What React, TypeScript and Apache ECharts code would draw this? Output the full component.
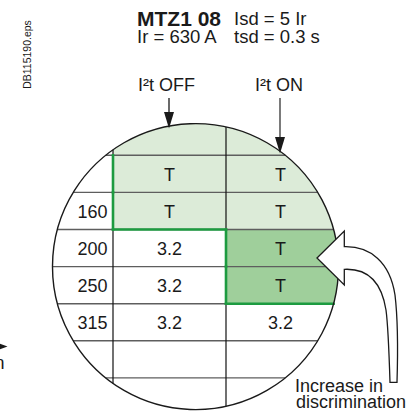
import React, { useEffect, useRef } from 'react';
import * as echarts from 'echarts';

// ---- data ----
const rowLabels = ['', '', '160', '200', '250', '315', '', ''];
const i2tOff = ['', 'T', 'T', '3.2', '3.2', '3.2', '', ''];
const i2tOn = ['', 'T', 'T', 'T', 'T', '3.2', '', ''];
const offShade = [1, 1, 1, 0, 0, 0, 0, 0]; // 1 = trip (light green)
const onShade = [1, 1, 1, 2, 2, 0, 0, 0]; // 2 = new trip (dark green)
const columnHeaders = ['I²t OFF', 'I²t ON'];
const titleLeft = ['MTZ1 08', 'Ir = 630 A'];
const titleRight = ['Isd = 5 Ir', 'tsd = 0.3 s'];
const noteLines = ['Increase in', 'discrimination'];
const figureId = 'DB115190.eps';

const NROWS = rowLabels.length;
const FONT = '"Liberation Sans", Arial, Helvetica, sans-serif';
const LIGHT = '#dcebd8';
const DARK = '#9fcf9b';
const GREEN = '#1d9b40';
const INK = '#1a1a1a';

// magnifier circle in axis units (x units)
const CIRCLE = { cx: 0.73, cy: 4.0, r: 1.2655 };

const ARROW_D =
  'M317,258 L344.3,231 L344.3,246.7 C370,246 390,262 395,295 C398,320 398,350 397,382.3 L390,382.3 C389,350 388,325 386,310 C382,285 370,268 344.3,269.3 L344.3,285 Z';
try {
  echarts.graphic.registerShape('curvedArrow', echarts.graphic.extendPath(ARROW_D, {}) as any);
} catch (e) {
  /* ignore */
}

function cellValue(r: number, c: number) {
  return c === 0 ? rowLabels[r] : c === 1 ? i2tOff[r] : i2tOn[r];
}

function circlePoints(cx: number, cy: number, R: number, n = 240) {
  const pts: number[][] = [];
  for (let i = 0; i < n; i++) {
    const a = (i / n) * Math.PI * 2;
    pts.push([cx + R * Math.cos(a), cy + R * Math.sin(a)]);
  }
  return pts;
}

function clipEdge(pts: number[][], inside: (p: number[]) => boolean, inter: (a: number[], b: number[]) => number[]) {
  const out: number[][] = [];
  for (let i = 0; i < pts.length; i++) {
    const cur = pts[i];
    const prev = pts[(i + pts.length - 1) % pts.length];
    const ci = inside(cur);
    const pi = inside(prev);
    if (ci) {
      if (!pi) out.push(inter(prev, cur));
      out.push(cur);
    } else if (pi) {
      out.push(inter(prev, cur));
    }
  }
  return out;
}

function clipRect(pts: number[][], x0: number, x1: number, y0: number, y1: number) {
  const ix = (a: number[], b: number[], x: number) => {
    const t = (x - a[0]) / (b[0] - a[0]);
    return [x, a[1] + t * (b[1] - a[1])];
  };
  const iy = (a: number[], b: number[], y: number) => {
    const t = (y - a[1]) / (b[1] - a[1]);
    return [a[0] + t * (b[0] - a[0]), y];
  };
  let p = pts;
  p = clipEdge(p, (q) => q[0] >= x0, (a, b) => ix(a, b, x0));
  if (p.length) p = clipEdge(p, (q) => q[0] <= x1, (a, b) => ix(a, b, x1));
  if (p.length) p = clipEdge(p, (q) => q[1] >= y0, (a, b) => iy(a, b, y0));
  if (p.length) p = clipEdge(p, (q) => q[1] <= y1, (a, b) => iy(a, b, y1));
  return p;
}

// segment clipped to circle (axis aligned), pixel coords
function clipSeg(p1: number[], p2: number[], c: number[], R: number) {
  if (p1[1] === p2[1]) {
    const dy = p1[1] - c[1];
    if (Math.abs(dy) >= R) return null;
    const dx = Math.sqrt(R * R - dy * dy);
    const a = Math.max(Math.min(p1[0], p2[0]), c[0] - dx);
    const b = Math.min(Math.max(p1[0], p2[0]), c[0] + dx);
    if (b <= a) return null;
    return [a, p1[1], b, p1[1]];
  }
  const dx = p1[0] - c[0];
  if (Math.abs(dx) >= R) return null;
  const dy = Math.sqrt(R * R - dx * dx);
  const a = Math.max(Math.min(p1[1], p2[1]), c[1] - dy);
  const b = Math.min(Math.max(p1[1], p2[1]), c[1] + dy);
  if (b <= a) return null;
  return [p1[0], a, p1[0], b];
}

// cells
const cellData: number[][] = [];
for (let r = 0; r < NROWS; r++) for (let c = 0; c < 3; c++) cellData.push([c, r]);

// grid lines: [orientation (0=h,1=v), position]
const gridLines: number[][] = [];
for (let r = 1; r < NROWS; r++) gridLines.push([0, r]);
gridLines.push([1, 0]);
gridLines.push([1, 1]);

// green boundary between trip / no-trip cells
const greenSegs: number[][] = [];
for (let c = 1; c <= 2; c++) {
  for (let r = 0; r < NROWS; r++) {
    if (cellValue(r, c) !== 'T') continue;
    const x0 = c - 1;
    const x1 = c;
    const left = c === 1 ? 'label' : cellValue(r, c - 1);
    if (left === 'label' || (left && left !== 'T')) greenSegs.push([x0, r, x0, r + 1]);
    if (c === 1) {
      const right = cellValue(r, 2);
      if (right && right !== 'T') greenSegs.push([x1, r, x1, r + 1]);
    }
    if (r + 1 < NROWS) {
      const below = cellValue(r + 1, c);
      if (below && below !== 'T') greenSegs.push([x0, r + 1, x1, r + 1]);
    }
    if (r - 1 >= 0) {
      const above = cellValue(r - 1, c);
      if (above && above !== 'T') greenSegs.push([x0, r, x1, r]);
    }
  }
}

function circleGeom(api: any) {
  const center = api.coord([CIRCLE.cx, CIRCLE.cy]);
  const R = api.size([CIRCLE.r, 0])[0];
  return { center, R };
}

export default function App() {
  const ref = useRef<HTMLDivElement>(null);
  useEffect(() => {
    if (!ref.current) return;
    const chart = echarts.init(ref.current, null, { renderer: 'svg' });
    const txt = (text: string, x: number, y: number, size: number, extra: any = {}) => ({
      type: 'text',
      x,
      y,
      z: 50,
      ...extra,
      style: {
        text,
        font: `${extra.bold ? 'bold ' : ''}${size}px ${FONT}`,
        fill: INK,
        align: extra.align || 'left',
        textAlign: extra.align || 'left',
        verticalAlign: 'middle',
        textVerticalAlign: 'middle',
      },
    });

    const option: any = {
      animation: false,
      backgroundColor: '#ffffff',
      grid: { left: 0, top: 118.2, width: 339, height: 302.4 },
      xAxis: { type: 'value', min: -1, max: 2, show: false, splitLine: { show: false } },
      yAxis: { type: 'value', min: 0, max: NROWS, inverse: true, show: false, splitLine: { show: false } },
      series: [
        {
          type: 'custom',
          z: 2,
          clip: false,
          data: cellData,
          renderItem: (params: any, api: any) => {
            const c = api.value(0);
            const r = api.value(1);
            const p0 = api.coord([c - 1, r]);
            const p1 = api.coord([c, r + 1]);
            const { center, R } = circleGeom(api);
            const children: any[] = [];
            const shade = c === 1 ? offShade[r] : c === 2 ? onShade[r] : 0;
            if (shade) {
              const poly = clipRect(
                circlePoints(center[0], center[1], R),
                Math.min(p0[0], p1[0]),
                Math.max(p0[0], p1[0]),
                Math.min(p0[1], p1[1]),
                Math.max(p0[1], p1[1])
              );
              if (poly.length > 2)
                children.push({ type: 'polygon', shape: { points: poly }, style: { fill: shade === 2 ? DARK : LIGHT } });
            }
            const text = cellValue(r, c);
            if (text) {
              children.push({
                type: 'text',
                x: c === 0 ? p1[0] - 5.5 : (p0[0] + p1[0]) / 2 - (c === 2 ? 2 : 0),
                y: (p0[1] + p1[1]) / 2 + 1,
                style: {
                  text,
                  fill: INK,
                  font: `18px ${FONT}`,
                  align: c === 0 ? 'right' : 'center',
                  verticalAlign: 'middle',
                },
              });
            }
            return { type: 'group', children };
          },
        },
        {
          type: 'custom',
          z: 3,
          clip: false,
          data: gridLines,
          renderItem: (params: any, api: any) => {
            const o = api.value(0);
            const pos = api.value(1);
            const { center, R } = circleGeom(api);
            const a = o === 0 ? api.coord([-1, pos]) : api.coord([pos, 0]);
            const b = o === 0 ? api.coord([2, pos]) : api.coord([pos, NROWS]);
            const s = clipSeg(a, b, center, R);
            if (!s) return { type: 'group', children: [] };
            return {
              type: 'line',
              shape: { x1: s[0], y1: s[1], x2: s[2], y2: s[3] },
              style: { stroke: o === 0 ? '#5e5e5e' : '#111', lineWidth: o === 0 ? 1.4 : 1.2 },
            };
          },
        },
        {
          type: 'custom',
          z: 4,
          clip: false,
          data: greenSegs,
          renderItem: (params: any, api: any) => {
            const { center, R } = circleGeom(api);
            const a = api.coord([api.value(0), api.value(1)]);
            const b = api.coord([api.value(2), api.value(3)]);
            const s = clipSeg(a, b, center, R);
            if (!s) return { type: 'group', children: [] };
            return {
              type: 'line',
              shape: { x1: s[0], y1: s[1], x2: s[2], y2: s[3] },
              style: { stroke: GREEN, lineWidth: 2.6, lineCap: 'square' },
            };
          },
        },
        {
          type: 'custom',
          z: 5,
          clip: false,
          data: [[CIRCLE.cx, CIRCLE.cy]],
          renderItem: (params: any, api: any) => {
            const { center, R } = circleGeom(api);
            return {
              type: 'circle',
              shape: { cx: center[0], cy: center[1], r: R },
              style: { fill: 'none', stroke: INK, lineWidth: 1.4 },
            };
          },
        },
      ],
      graphic: [
        {
          type: 'text',
          x: 27,
          y: 54.5,
          rotation: Math.PI / 2,
          z: 50,
          style: {
            text: figureId,
            font: `10.5px ${FONT}`,
            fill: INK,
            align: 'center',
            textAlign: 'center',
            verticalAlign: 'middle',
            textVerticalAlign: 'middle',
          },
        },
        txt(titleLeft[0], 137, 18.5, 21, { bold: true }),
        txt(titleRight[0], 234, 18.5, 18.5),
        txt(titleLeft[1], 137, 36, 18.5),
        txt(titleRight[1], 234, 36, 18.5),
        txt(columnHeaders[0], 138, 84.5, 18),
        txt(columnHeaders[1], 255, 84.5, 18),
        { type: 'line', z: 50, shape: { x1: 169, y1: 98, x2: 169, y2: 114 }, style: { stroke: INK, lineWidth: 1.3 } },
        { type: 'polygon', z: 50, shape: { points: [[164, 112], [174, 112], [169, 128.5]] }, style: { fill: INK } },
        { type: 'line', z: 50, shape: { x1: 280, y1: 98, x2: 280, y2: 139 }, style: { stroke: '#333', lineWidth: 1.3 } },
        { type: 'polygon', z: 50, shape: { points: [[275, 137], [285, 137], [280, 153.5]] }, style: { fill: INK } },
        { type: 'curvedArrow', z: 60, x: 0, y: 0, style: { fill: '#ffffff', stroke: INK, lineWidth: 1.3 } },
        txt(noteLines[0], 295, 385.5, 18),
        txt(noteLines[1], 296, 401.8, 18),
        { type: 'line', z: 50, shape: { x1: -5, y1: 346.5, x2: 2, y2: 346.5 }, style: { stroke: INK, lineWidth: 1.2 } },
        { type: 'polygon', z: 50, shape: { points: [[-1, 343.5], [7.5, 346.5], [-1, 349.5]] }, style: { fill: INK } },
        txt('n', 4.5, 362.8, 18, { align: 'right' }),
      ],
    };
    chart.setOption(option);
    return () => chart.dispose();
  }, []);
  return <div ref={ref} style={{ position: 'absolute', left: 0, top: 0, width: 419, height: 415 }} />;
}
